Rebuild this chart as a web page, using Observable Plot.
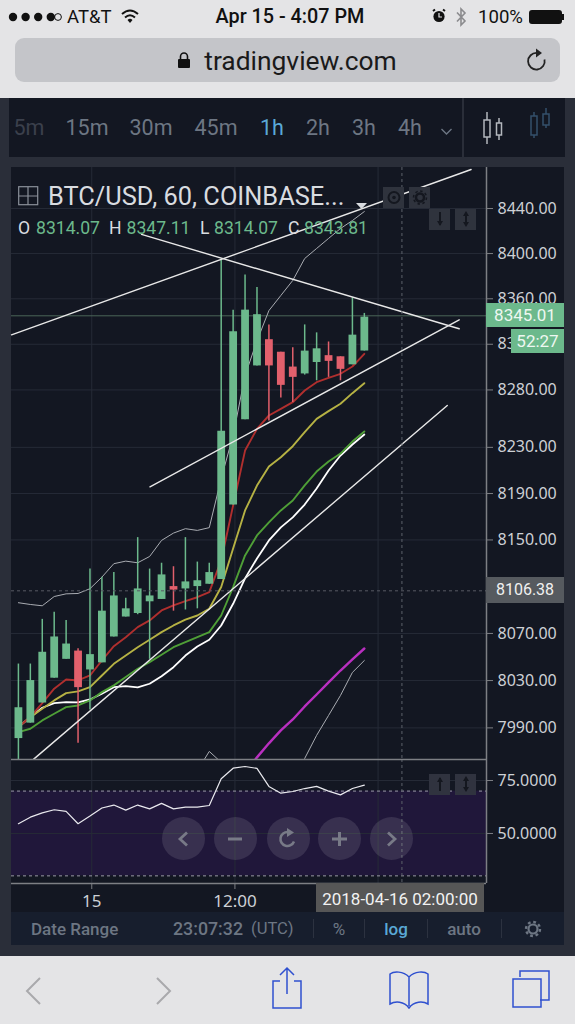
<!DOCTYPE html>
<html>
<head>
<meta charset="utf-8">
<script src="https://cdn.jsdelivr.net/npm/d3@7"></script>
<script src="https://cdn.jsdelivr.net/npm/@observablehq/plot@0.6"></script>
<style>
html,body{margin:0;padding:0;background:#e4e4e6;overflow:hidden}
#page{position:relative;width:575px;height:1024px;overflow:hidden;font-family:Roboto,"Liberation Sans",sans-serif}
#page>*{position:absolute}
.t{white-space:nowrap;line-height:1}
svg{overflow:visible}
</style>
</head>
<body>
<div id="page"></div>
<script>
// ---------- data ----------
const startHour = Date.UTC(2018, 3, 14, 18);
const open  = [7981,7994,8011,8032,8048,8055,8039,8045,8067,8084,8087,8097,8099,8110,8108,8110,8112,8116,8180,8254,8301,8324,8313,8300,8294,8304,8310,8309,8302,8314.07];
const close = [8007,8030,8054,8067,8061,8024,8052,8089,8102,8091,8108,8102,8120,8107,8114,8115,8122,8244,8331,8350,8346,8301,8284,8291,8314,8316,8305,8298,8328,8343.81];
const high  = [8044,8044,8082,8088,8081,8057,8125,8118,8122,8100,8152,8125,8130,8127,8152,8131,8130,8395,8350,8381,8370,8337,8313,8317,8337,8330,8322,8309,8361,8347.11];
const low   = [7960,7994,8011,8032,8048,7977,8005,8045,8067,8084,8086,8048,8099,8089,8090,8091,8112,8116,8180,8254,8301,8253,8273,8269,8293,8288,8291,8288,8302,8314.07];
const maRed    = [7990.7,7999.1,8010.9,8023.1,8030.9,8030.1,8034.3,8047,8059.2,8066.8,8075.4,8081.1,8089.6,8093.9,8097.5,8100.9,8105.2,8132.4,8179.7,8227.2,8246.1,8257.7,8263.5,8269.3,8279.5,8286.8,8290.6,8294.1,8300.5,8311.6];
const maYellow = [7990.7,7999.1,8006.1,8013.2,8019.4,8020.8,8024.4,8034.3,8044.2,8051.2,8058.3,8064.6,8071.1,8076.8,8081.7,8085.3,8091.1,8109.6,8142.7,8175.4,8196.9,8213.4,8221.4,8231,8243.2,8254.8,8261.5,8267.9,8277.2,8285.9];
const maGreen  = [7986.4,7989.3,7996.3,8001.9,8007.5,8008.9,8013.2,8020.2,8025.9,8033,8040,8045.6,8051.9,8058.3,8062.6,8066.8,8071.1,8085.3,8109.6,8136.7,8153.9,8165.1,8175.4,8184,8197,8209,8217.7,8224.6,8235,8243.8];
const maWhite  = [7990.7,7999.1,8007,8010.9,8011.7,8011.5,8014,8018.9,8024.4,8025.3,8024.2,8027.3,8033.7,8041.3,8051.2,8058.9,8064.6,8076.8,8095.3,8117,8134.1,8149.6,8160.8,8169.4,8180.5,8194.4,8209.9,8222.9,8232.5,8241.2];
const maThin   = [8096.2,8094.7,8093.6,8101.5,8103.8,8104.1,8108.2,8118.1,8129.6,8131.8,8130.4,8135.8,8149.6,8155.9,8159.7,8158.2,8160.6,8203,8240.4,8292.6,8323,8349.6,8362.9,8376.2,8395.6,8404.5,8413.4,8422.2,8429.3,8437.3];
const maMagenta= [null,null,null,null,null,null,null,null,null,null,null,null,null,null,null,null,null,null,null,7952.5,7965.2,7977,7987.9,7997.1,8008.1,8018.2,8028.4,8038.5,8047.9,8057.2];
const maLower  = [null,null,null,null,null,null,null,null,null,null,null,null,null,null,null,7954,7970.2,7961,7945,7945,7945,7945,7945,7941.7,7964.3,7983.7,8000.5,8017.4,8036.9,8047];
const rsi = [54.6,57.7,59.7,61.2,60.4,54.6,58.2,62,63.4,61,63.4,61.6,64.2,61.6,62.4,62.4,63.2,75.8,80.8,81.6,80.7,72.2,69,69.8,71.2,72.2,70,68.2,71.2,72.8];
// hand-drawn trend lines: [start hour, start price, end hour, end price]
const trendLines = [
  [-0.73,8328.3,37.8,8474.8],
  [10.17,8417,36.8,8333.6],
  [10.88,8195.8,36.8,8341.5],
  [1.11,7963.5,35.8,8266.4]
];
const priceTicks = [8440,8400,8360,8320,8280,8230,8190,8150,8070,8030,7990];
const rsiTicks = [75,50];
const rsiBands = [70,30];
const lastPrice = 8345.01;
const crossPrice = 8106.38;
const crossHour = 32;
const gridHours = [6,18,30];
const timeTicks = [6,18];
const timeLabels = ["15","12:00"];
const frames = ["5m","15m","30m","45m","1h","2h","3h","4h"];

// ---------- helpers ----------
const T = h => new Date(startHour + h * 3600e3);
const times = open.map((_, i) => T(i));
const page = document.getElementById("page");
function box(x,y,w,h,bg,extra=""){const d=document.createElement("div");d.style.cssText=`left:${x}px;top:${y}px;width:${w}px;height:${h}px;background:${bg};${extra}`;page.append(d);return d;}
function txt(s,x,y,size,color,anchor="left",extra=""){const d=document.createElement("div");d.className="t";d.textContent=s;
  const tx=anchor==="center"?"-50%":anchor==="right"?"-100%":"0";
  d.style.cssText=`left:${x}px;top:${y}px;font-size:${size}px;color:${color};transform:translate(${tx},-50%);${extra}`;page.append(d);return d;}
function icon(x,y,w,h,inner){const d=document.createElement("div");d.style.cssText=`left:${x}px;top:${y}px;width:${w}px;height:${h}px`;
  d.innerHTML=`<svg width="${w}" height="${h}" viewBox="0 0 ${w} ${h}" fill="none">${inner}</svg>`;page.append(d);return d;}

// ---------- app frame ----------
box(0,0,575,98,"#e4e4e6");
box(0,98,575,858,"#2a2e39");
box(0,956,575,68,"#e4e4e6");
box(15,38,545,44,"#c4c5c9","border-radius:9px");
box(9,98,453,59,"#131722");
box(464,98,101,59,"#131722");
box(11,167,553,778,"#131722");
box(11,912,553,33,"#171e2d");

// status bar
icon(8,9,56,14,[0,1,2,3].map(i=>`<circle cx="${5+i*12.6}" cy="7" r="4.2" fill="#111"/>`).join("")+`<circle cx="50" cy="7" r="3.4" stroke="#111" stroke-width="1"/>`);
txt("AT&T",67,16.5,18.5,"#111");
icon(120,8,20,16,`<path d="M2 6 Q10 -1 18 6" stroke="#111" stroke-width="2"/><path d="M5 9.5 Q10 5 15 9.5" stroke="#111" stroke-width="2"/><path d="M7.5 12 L10 15 L12.5 12 Q10 9.5 7.5 12Z" fill="#111"/>`);
txt("Apr 15 - 4:07 PM",290,16.5,19.8,"#111","center","font-weight:500");
icon(431,8,16,16,`<circle cx="8" cy="8.5" r="5.6" fill="#111"/><path d="M8 5V9H11" stroke="#e4e4e6" stroke-width="1.2"/><path d="M2 3L4 1.5M14 3L12 1.5" stroke="#111" stroke-width="2"/>`);
icon(455,7,13,20,`<path d="M2 5.5L10 14 6 18V2L10 6 2 14.5" stroke="#8b8b8e" stroke-width="1.6"/>`);
txt("100%",478,16.5,18.6,"#111");
box(529,10,33,14,"#111","border-radius:3px");
box(562,14,2,6,"#111");
// url bar
icon(177,51,14,18,`<path d="M3.5 8V5.5A3.5 3.5 0 0 1 10.5 5.5V8" stroke="#111" stroke-width="1.6"/><rect x="1" y="8" width="12" height="9" rx="1" fill="#111"/>`);
txt("tradingview.com",300.5,60.5,26.4,"#1a1a1a","center");
icon(525,47,24,25,`<path d="M19.5 12.5A8.3 8.3 0 1 1 12 6" stroke="#222" stroke-width="1.8"/><path d="M11 1.5L17 6 11 10.5Z" fill="#222"/>`);

// interval toolbar
const fx=[29,87,151,216,272,318,364,410];
frames.forEach((f,i)=>txt(f,fx[i],128,21.5,i===0?"#3b404c":i===4?"#5aa9d6":"#6d7683","center"));
icon(440,122,13,10,`<path d="M1.5 2L6.5 7 11.5 2" stroke="#6d7683" stroke-width="1.4"/>`);
icon(480,112,24,32,`<path d="M7 0V32" stroke="#b3b7bd" stroke-width="1.5"/><rect x="4" y="8" width="6" height="17" fill="#131722" stroke="#b3b7bd" stroke-width="1.5"/><path d="M19 6V28" stroke="#b3b7bd" stroke-width="1.5"/><rect x="16.5" y="11" width="5" height="12" fill="#131722" stroke="#b3b7bd" stroke-width="1.5"/>`);
icon(528,108,24,30,`<path d="M18 0V20" stroke="#35506b" stroke-width="1.5"/><path d="M6 4V30" stroke="#35506b" stroke-width="1.5"/><rect x="3" y="8" width="6" height="19" fill="#131722" stroke="#35506b" stroke-width="1.5"/><rect x="15" y="6" width="6" height="11" fill="#131722" stroke="#35506b" stroke-width="1.5"/>`);

// ---------- charts ----------
const xDomain = [T(-0.73), T(39.09)];
const paneW = 553, axisW = 78;
const gridC = "#262b37", axisC = "#7d7f84", labelC = "#cdd0d5";
const green = "#6cb98c", red = "#e2606c";
const fmt2 = d3.format(".2f"), fmt4 = d3.format(".4f");
const dx = -1.8;
const candles = times.map((t,i)=>({t,o:open[i],c:close[i],h:high[i],l:low[i],col:close[i]>=open[i]?green:red}));
const trend = trendLines.flatMap((l,k)=>[{k,t:T(l[0]),p:l[1]},{k,t:T(l[2]),p:l[3]}]);
const ma = (vals,stroke,strokeWidth)=>Plot.line(vals.map((v,i)=>({t:times[i],v})),{x:"t",y:"v",stroke,strokeWidth,dx,clip:true,defined:d=>d.v!=null,strokeLinejoin:"round"});

const main = Plot.plot({
  width: paneW, height: 592, marginLeft: 0, marginRight: axisW, marginTop: 0, marginBottom: 0,
  style: {background:"transparent", fontFamily:"Roboto,'Liberation Sans',sans-serif"},
  x: {type:"utc", domain:xDomain, axis:null},
  y: {type:"log", domain:[7963.4,8476.6]},
  marks: [
    Plot.ruleY(priceTicks,{stroke:gridC,strokeWidth:1}),
    Plot.ruleX(gridHours.map(T),{stroke:gridC,strokeWidth:1}),
    Plot.ruleY([lastPrice],{stroke:"#4a6557",strokeWidth:1}),
    ma(maThin,"#a9acb2",1),
    ma(maLower,"#a9acb2",1),
    ma(maMagenta,"#b92fc0",2.4),
    ma(maWhite,"#ffffff",1.8),
    ma(maGreen,"#4f9f37",1.9),
    ma(maYellow,"#b6b244",1.9),
    ma(maRed,"#b02f2e",1.9),
    Plot.ruleX(candles,{x:"t",y1:"l",y2:"h",stroke:"col",strokeWidth:1.5,dx,clip:true}),
    Plot.ruleX(candles,{x:"t",y1:"o",y2:"c",stroke:"col",strokeWidth:7.8,dx,clip:true}),
    Plot.line(trend,{x:"t",y:"p",z:"k",stroke:"#e8e8e8",strokeWidth:1.4}),
    Plot.ruleY([crossPrice],{stroke:"#565a64",strokeDasharray:"3,3"}),
    Plot.ruleX([T(crossHour)],{stroke:"#5d616b",strokeDasharray:"3,3"}),
    Plot.axisY(priceTicks,{anchor:"right",tickSize:6,tickPadding:5,tickFormat:fmt2,fontSize:16,fill:labelC,stroke:axisC,color:labelC,label:null}),
    Plot.ruleX([xDomain[1]],{stroke:axisC,strokeWidth:1.5})
  ]
});
main.style.cssText = "left:11px;top:167px";
page.append(main);

const rsiPlot = Plot.plot({
  width: paneW, height: 153, marginLeft: 0, marginRight: axisW, marginTop: 0, marginBottom: 29,
  style: {background:"transparent", fontFamily:"Roboto,'Liberation Sans',sans-serif"},
  x: {type:"utc", domain:xDomain},
  y: {domain:[26.4,84.9]},
  marks: [
    Plot.rectY([0],{x1:xDomain[0],x2:xDomain[1],y1:rsiBands[1],y2:rsiBands[0],fill:"#20173a"}),
    Plot.ruleY(rsiTicks,{stroke:gridC}),
    Plot.ruleX(gridHours.map(T),{stroke:gridC}),
    Plot.ruleY(rsiBands,{stroke:"#9a9aa6",strokeDasharray:"3,3"}),
    Plot.line(rsi.map((v,i)=>({t:times[i],v})),{x:"t",y:"v",stroke:"#e9e9ee",strokeWidth:1.2,dx}),
    Plot.ruleX([T(crossHour)],{stroke:"#5d616b",strokeDasharray:"3,3"}),
    Plot.axisY(rsiTicks,{anchor:"right",tickSize:6,tickPadding:5,tickFormat:fmt4,fontSize:16,fill:labelC,stroke:axisC,label:null}),
    Plot.axisX(timeTicks.map(T),{tickSize:6,tickPadding:5,tickFormat:(d,i)=>timeLabels[i],fontSize:17,fill:labelC,stroke:axisC,label:null}),
    Plot.ruleX([xDomain[1]],{stroke:axisC,strokeWidth:1.5}),
    Plot.ruleY([26.4],{stroke:axisC,strokeWidth:1.5}),
    Plot.ruleY([84.9],{stroke:axisC,strokeWidth:1.5})
  ]
});
rsiPlot.style.cssText = "left:11px;top:759px";
page.append(rsiPlot);

// ---------- overlays ----------
const py = main.scale("y"), px = main.scale("x");
const yMain = v => 167 + py.apply(v), xMain = h => 11 + px.apply(T(h));

// price tags
box(486,yMain(lastPrice)-12.5,78,24.5,green);
txt(fmt2(lastPrice),525,yMain(lastPrice),17,"#eef7f1","center");
box(511,329,53,24,green);
txt("52:27",537.5,341,17,"#eef7f1","center");
box(486,yMain(crossPrice)-13,78,26,"#565a5f");
txt(fmt2(crossPrice),525,yMain(crossPrice),16,"#f0f0f0","center");
box(316,883,168,29,"#565656");
txt("2018-04-16 02:00:00",400,899,17,"#f2f2f2","center");

// legend
icon(18,186,21,20,`<rect x=".7" y=".7" width="19" height="18" stroke="#8b909a" stroke-width="1.2"/><path d="M10 1V19M1 10H20" stroke="#8b909a" stroke-width="1.2"/>`);
txt("BTC/USD, 60, COINBASE...",48,197,25.4,"#d9dce0");
icon(356,194,11,6,`<path d="M0 0H11L5.5 6Z" fill="#d9dce0"/>`);
[[383,187],[409,187],[429,209],[455,209]].forEach(([x,y])=>box(x,y,21,21,"#2f333d"));
icon(386,189,16,17,`<circle cx="8" cy="8.5" r="5.5" stroke="#14171f" stroke-width="2"/><circle cx="8" cy="8.5" r="1.8" fill="#14171f"/>`);
icon(412,189,16,17,`<circle cx="8" cy="8.5" r="4" stroke="#14171f" stroke-width="2.5"/><circle cx="8" cy="8.5" r="6.5" stroke="#14171f" stroke-width="1.5" stroke-dasharray="2.5,2.5"/>`);
const updown=`<path d="M5 1V14" stroke="#14171f" stroke-width="2"/><path d="M2 10L5 15 8 10Z" fill="#14171f"/>`;
const both=`<path d="M5 2V14" stroke="#14171f" stroke-width="2"/><path d="M2 5L5 0 8 5ZM2 11L5 16 8 11Z" fill="#14171f"/>`;
icon(434.5,211,10,16,updown); icon(460.5,211,10,16,both);
const gOHLC="#6cb98c", wOHLC="#d9dce0";
[["O",18,wOHLC],["8314.07",36,gOHLC],["H",109,wOHLC],["8347.11",126.5,gOHLC],["L",200,wOHLC],["8314.07",214,gOHLC],["C",288,wOHLC],["8343.81",304,gOHLC]]
  .forEach(([s,x,c])=>txt(s,x,229,17.6,c));

// rsi pane buttons
[429,455].forEach(x=>box(x,774,21,21,"#30333f"));
const upa=`<path d="M5 2V15" stroke="#14171f" stroke-width="2"/><path d="M2 6L5 1 8 6Z" fill="#14171f"/>`;
icon(434.5,776,10,16,upa); icon(460.5,776,10,16,both);
const btnX=[183.3,235,288,339.6,391.6];
btnX.forEach(x=>box(x-21.5,817,43,43,"rgba(255,255,255,.11)","border-radius:50%"));
const g="#787a87";
icon(176,830,14,18,`<path d="M11 2.5L4 9 11 15.5" stroke="${g}" stroke-width="2.8"/>`);
icon(228,830,14,18,`<path d="M0 9H14" stroke="${g}" stroke-width="3"/>`);
icon(277,828,22,22,`<path d="M17 13.5A7 7 0 1 1 11 4" stroke="${g}" stroke-width="2.5"/><path d="M10 0L17 4.5 10 9Z" fill="${g}"/>`);
icon(332,831,15,16,`<path d="M0 8H15M7.5 1V15" stroke="${g}" stroke-width="3"/>`);
icon(385,830,14,18,`<path d="M3 2.5L10 9 3 15.5" stroke="${g}" stroke-width="2.8"/>`);

// bottom bar
const bc="#6d7683";
txt("Date Range",31,929,17,bc,"left","font-weight:500");
txt("23:07:32",173,929,17.8,bc,"left","font-weight:500");
txt("(UTC)",251,929,16.6,bc);
txt("%",339,929,17,bc,"center");
txt("log",396,929,17,"#5aa9d6","center","font-weight:500");
txt("auto",464,929,17,bc,"center","font-weight:500");
[313,364,427,501].forEach(x=>box(x,919,1,19,"#2c3240"));
icon(524,920,18,18,`<circle cx="9" cy="9" r="4.5" stroke="${bc}" stroke-width="2.2"/><circle cx="9" cy="9" r="7" stroke="${bc}" stroke-width="2.4" stroke-dasharray="2.8,2.7"/>`);

// safari toolbar
const sb="#2f50cf", sg="#a9a9ac";
icon(24,976,20,30,`<path d="M16 2L3 15 16 28" stroke="${sg}" stroke-width="2"/>`);
icon(153,976,20,30,`<path d="M4 2L17 15 4 28" stroke="${sg}" stroke-width="2"/>`);
icon(270,966,34,44,`<path d="M10 15H3V42H31V15H24" stroke="${sb}" stroke-width="1.5"/><path d="M17 28V2M10 9L17 2 24 9" stroke="${sb}" stroke-width="1.5"/>`);
icon(388,970,42,40,`<path d="M21 7C15 1 6 1 2 4V34C7 31 16 31 21 38 26 31 35 31 40 34V4C36 1 27 1 21 7ZM21 7V36" stroke="${sb}" stroke-width="1.5"/>`);
icon(511,969,40,40,`<path d="M9 8V2H38V31H29" stroke="${sb}" stroke-width="1.5"/><rect x="2" y="10" width="28" height="28" stroke="${sb}" stroke-width="1.5"/>`);
</script>
</body>
</html>
